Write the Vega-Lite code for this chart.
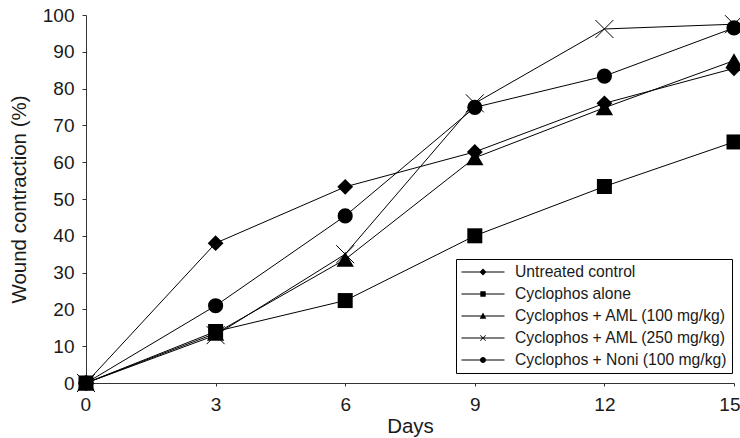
{
  "$schema": "https://vega.github.io/schema/vega-lite/v6.json",
  "width": 648,
  "height": 368,
  "autosize": {"type": "none"},
  "padding": {"left": 86, "top": 15, "right": 6, "bottom": 55},
  "background": "white",
  "config": {
    "view": {"stroke": null},
    "font": "Liberation Sans",
    "axis": {
      "domainColor": "#333333",
      "tickColor": "#333333",
      "labelColor": "#1a1a1a",
      "titleColor": "#1a1a1a",
      "labelFontSize": 19,
      "titleFontSize": 20.5,
      "titleFontWeight": "normal",
      "grid": false,
      "labelOverlap": false,
      "labelFont": "Liberation Sans",
      "titleFont": "Liberation Sans"
    },
    "axisY": {"labelOverlap": false, "labelFlush": false},
    "legend": {"symbolStrokeColor": "black", "symbolStrokeWidth": 1}
  },
  "data": {
    "values": [
      {"series": "Untreated control", "day": 0, "value": 0},
      {"series": "Untreated control", "day": 3, "value": 38},
      {"series": "Untreated control", "day": 6, "value": 53.3},
      {"series": "Untreated control", "day": 9, "value": 62.8},
      {"series": "Untreated control", "day": 12, "value": 76},
      {"series": "Untreated control", "day": 15, "value": 85.5},
      {"series": "Cyclophos alone", "day": 0, "value": 0},
      {"series": "Cyclophos alone", "day": 3, "value": 14},
      {"series": "Cyclophos alone", "day": 6, "value": 22.4},
      {"series": "Cyclophos alone", "day": 9, "value": 40},
      {"series": "Cyclophos alone", "day": 12, "value": 53.4},
      {"series": "Cyclophos alone", "day": 15, "value": 65.5},
      {"series": "Cyclophos + AML (100 mg/kg)", "day": 0, "value": 0},
      {"series": "Cyclophos + AML (100 mg/kg)", "day": 3, "value": 13.5},
      {"series": "Cyclophos + AML (100 mg/kg)", "day": 6, "value": 33.6},
      {"series": "Cyclophos + AML (100 mg/kg)", "day": 9, "value": 61.2},
      {"series": "Cyclophos + AML (100 mg/kg)", "day": 12, "value": 74.8},
      {"series": "Cyclophos + AML (100 mg/kg)", "day": 15, "value": 87.6},
      {"series": "Cyclophos + AML (250 mg/kg)", "day": 0, "value": 0},
      {"series": "Cyclophos + AML (250 mg/kg)", "day": 3, "value": 13},
      {"series": "Cyclophos + AML (250 mg/kg)", "day": 6, "value": 35},
      {"series": "Cyclophos + AML (250 mg/kg)", "day": 9, "value": 76},
      {"series": "Cyclophos + AML (250 mg/kg)", "day": 12, "value": 96.2},
      {"series": "Cyclophos + AML (250 mg/kg)", "day": 15, "value": 97.5},
      {"series": "Cyclophos + Noni (100 mg/kg)", "day": 0, "value": 0},
      {"series": "Cyclophos + Noni (100 mg/kg)", "day": 3, "value": 21},
      {"series": "Cyclophos + Noni (100 mg/kg)", "day": 6, "value": 45.4},
      {"series": "Cyclophos + Noni (100 mg/kg)", "day": 9, "value": 74.9},
      {"series": "Cyclophos + Noni (100 mg/kg)", "day": 12, "value": 83.4},
      {"series": "Cyclophos + Noni (100 mg/kg)", "day": 15, "value": 96.5}
    ]
  },
  "encoding": {
    "x": {"field": "day", "type": "quantitative", "scale": {"domain": [0, 15], "nice": false}, "axis": {"values": [0, 3, 6, 9, 12, 15], "title": "Days", "tickSize": 3, "labelPadding": 9, "titlePadding": 2, "labelFlush": true, "labelFlushOffset": 6, "labelOverlap": false}},
    "y": {"field": "value", "type": "quantitative", "scale": {"domain": [0, 100], "nice": false}, "axis": {"values": [0, 10, 20, 30, 40, 50, 60, 70, 80, 90, 100], "tickCount": 11, "title": "Wound contraction (%)", "tickSize": 4, "labelPadding": 8, "titlePadding": 13, "labelFlush": false, "labelOverlap": false}}
  },
  "layer": [
    {
      "mark": {"type": "line", "color": "black", "strokeWidth": 1},
      "encoding": {"detail": {"field": "series"}}
    },
    {
      "transform": [{"filter": "datum.series == 'Untreated control'"}],
      "mark": {"type": "point", "filled": true, "color": "black", "opacity": 1, "shape": "diamond", "size": 250}
    },
    {
      "transform": [{"filter": "datum.series == 'Cyclophos alone'"}],
      "mark": {"type": "point", "filled": true, "color": "black", "opacity": 1, "shape": "square", "size": 225}
    },
    {
      "transform": [{"filter": "datum.series == 'Cyclophos + AML (100 mg/kg)'"}],
      "mark": {"type": "point", "filled": true, "color": "black", "opacity": 1, "shape": "triangle-up", "size": 300}
    },
    {
      "transform": [{"filter": "datum.series == 'Cyclophos + Noni (100 mg/kg)'"}],
      "mark": {"type": "point", "filled": true, "color": "black", "opacity": 1, "shape": "circle", "size": 230}
    },
    {
      "transform": [{"filter": "datum.series == 'Cyclophos + AML (250 mg/kg)'"}],
      "mark": {"type": "point", "filled": false, "shape": "M-1,-1L1,1M-1,1L1,-1", "size": 324, "stroke": "black", "strokeWidth": 1, "opacity": 1}
    },
    {
      "transform": [{"filter": "false"}],
      "mark": {"type": "point", "filled": true, "color": "black", "opacity": 1},
      "encoding": {
        "shape": {
          "field": "series",
          "scale": {
            "domain": ["Untreated control", "Cyclophos alone", "Cyclophos + AML (100 mg/kg)", "Cyclophos + AML (250 mg/kg)", "Cyclophos + Noni (100 mg/kg)"],
            "range": [
              "M-1,-0.067L4.733,-0.067L4.733,0.067L-1,0.067ZM1.4,0L1.867,-0.467L2.333,0L1.867,0.467Z",
              "M-1,-0.067L4.733,-0.067L4.733,0.067L-1,0.067ZM1.507,-0.36L2.227,-0.36L2.227,0.36L1.507,0.36Z",
              "M-1,-0.067L4.733,-0.067L4.733,0.067L-1,0.067ZM1.867,-0.467L2.307,0.373L1.427,0.373Z",
              "M-1,-0.067L4.733,-0.067L4.733,0.067L-1,0.067ZM1.542,-0.395L2.262,0.325L2.192,0.395L1.472,-0.325ZM1.472,0.325L2.192,-0.395L2.262,-0.325L1.542,0.395Z",
              "M-1,-0.067L4.733,-0.067L4.733,0.067L-1,0.067ZM1.467,0A0.4,0.4,0,1,1,2.267,0A0.4,0.4,0,1,1,1.467,0Z"
            ]
          },
          "legend": {
            "orient": "none",
            "legendX": 370,
            "legendY": 244,
            "title": null,
            "strokeColor": "black",
            "fillColor": "white",
            "padding": 5,
            "symbolSize": 225,
            "symbolFillColor": "black",
            "symbolOpacity": 1,
            "labelFontSize": 15.7,
            "labelColor": "#1a1a1a",
            "labelFont": "Liberation Sans",
            "labelOffset": 38,
            "labelLimit": 400,
            "rowPadding": 6
          }
        }
      }
    }
  ]
}
